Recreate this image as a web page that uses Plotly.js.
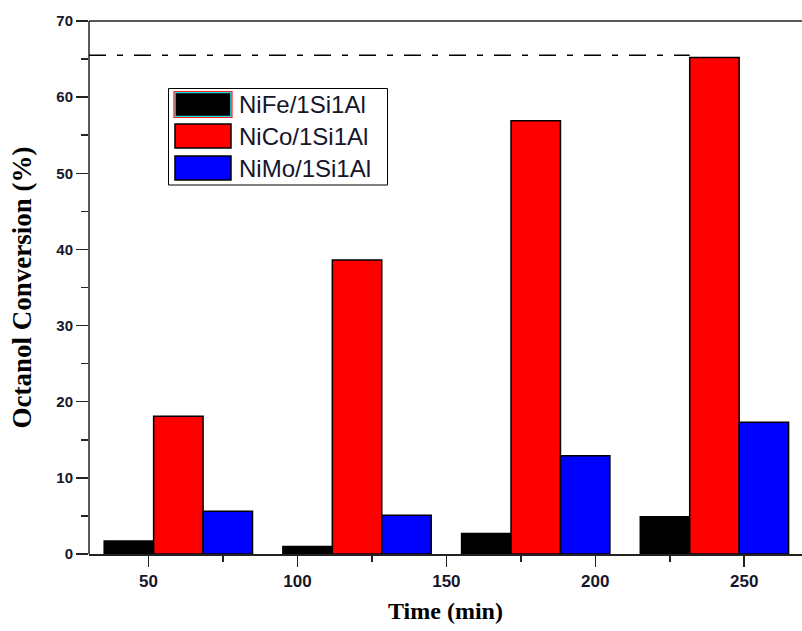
<!DOCTYPE html>
<html>
<head>
<meta charset="utf-8">
<script src="https://cdn.plot.ly/plotly-3.0.1.min.js"></script>
<style>
  html, body { margin: 0; padding: 0; background: #fff; overflow: hidden; }
  #chart { width: 802px; height: 631px; }
</style>
</head>
<body>
<div id="chart"></div>
<script>
// Reaction time (min) and octanol conversion (%) for each catalyst
const times = [60, 120, 180, 240];
const seriesNames = ['NiFe/1Si1Al', 'NiCo/1Si1Al', 'NiMo/1Si1Al'];
const nifeConv = [1.7, 1.0, 2.7, 4.9];
const nicoConv = [18.1, 38.6, 56.9, 65.2];
const nimoConv = [5.6, 5.1, 12.9, 17.3];
const seriesColors = ['#000000', '#ff0000', '#0000ff'];

// Dash-dot reference level (%)
const refLevel = 65.5;

// Axis ticks
const xTicks = [50, 100, 150, 200, 250];
const xMinorTicks = [75, 125, 175, 225];
const yTicks = [0, 10, 20, 30, 40, 50, 60, 70];
const yMinorTicks = [5, 15, 25, 35, 45, 55, 65];

const xRange = [30, 269.4];
const yRange = [0, 70];
const barGap = 0.17;

const W = 802, H = 631;
const M = { l: 89, r: 0, t: 21, b: 77 };
const plotW = W - M.l - M.r, plotH = H - M.t - M.b;
const px = v => (v - M.l) / plotW;
const py = v => (H - M.b - v) / plotH;

const axisColor = '#222';

const allSeries = [nifeConv, nicoConv, nimoConv];
const traces = allSeries.map((vals, i) => ({
  type: 'bar',
  x: times,
  y: vals,
  name: seriesNames[i],
  marker: { color: seriesColors[i], line: { color: '#000', width: 1.5 } },
  hoverinfo: 'x+y+name'
}));

// width of one bar in data units, so the reference line stops at the last red bar
const step = times[1] - times[0];
const barW = step * (1 - barGap) / allSeries.length;
const lineEnd = times[times.length - 1] - barW / 2;

const shapes = [
  // left axis line and top frame line
  { type: 'line', xref: 'paper', yref: 'paper', x0: 0, x1: 0, y0: 0, y1: 1,
    line: { color: axisColor, width: 1.5 }, layer: 'above' },
  { type: 'line', xref: 'paper', yref: 'paper', x0: 0, x1: 1, y0: 1, y1: 1,
    line: { color: axisColor, width: 1.5 }, layer: 'above' },
  // dash-dot reference level
  {
    type: 'line', xref: 'x', yref: 'y',
    x0: xRange[0], x1: lineEnd, y0: refLevel, y1: refLevel,
    line: { color: '#000', width: 1.5, dash: '17px,11px,6px,11px' }
  },
  // legend frame
  {
    type: 'rect', xref: 'paper', yref: 'paper',
    x0: px(168.5), x1: px(387.5), y0: py(88.5), y1: py(185),
    line: { color: '#000', width: 1 }, fillcolor: 'rgba(255,255,255,0)', layer: 'above'
  }
];

const rowTops = [92.5, 124, 156];
const swH = 24;
const annotations = [];
rowTops.forEach((top, i) => {
  shapes.push({
    type: 'rect', xref: 'paper', yref: 'paper',
    x0: px(175), x1: px(231), y0: py(top), y1: py(top + swH),
    fillcolor: seriesColors[i],
    line: { color: i === 0 ? '#22dddd' : '#000', width: 1.5 }, layer: 'above'
  });
  if (i === 0) {
    shapes.push({
      type: 'rect', xref: 'paper', yref: 'paper',
      x0: px(174), x1: px(232), y0: py(top - 1), y1: py(top + swH + 1),
      fillcolor: 'rgba(0,0,0,0)', line: { color: '#ff2020', width: 1.2 }, layer: 'above'
    });
  }
  annotations.push({
    xref: 'paper', yref: 'paper', x: px(237), y: py(top + swH / 2),
    xanchor: 'left', yanchor: 'middle', showarrow: false,
    text: seriesNames[i],
    font: { family: 'Liberation Sans, Arial, sans-serif', size: 24, color: '#16162a' }
  });
});

const tickFontX = { family: 'Liberation Sans, Arial, sans-serif', size: 17, color: '#16162a', weight: 'bold' };
const tickFontY = { family: 'Liberation Sans, Arial, sans-serif', size: 15, color: '#16162a', weight: 'bold' };
const xTitleFont = { family: 'Liberation Serif, Times New Roman, serif', size: 24, color: '#000', weight: 'bold' };
const yTitleFont = { family: 'Liberation Serif, Times New Roman, serif', size: 27, color: '#000', weight: 'bold' };

const layout = {
  width: W, height: H,
  margin: M,
  paper_bgcolor: '#fff', plot_bgcolor: '#fff',
  barmode: 'group', bargap: barGap, bargroupgap: 0,
  showlegend: false,
  xaxis: {
    range: xRange, tickmode: 'array', tickvals: xTicks, ticktext: xTicks.map(String),
    ticks: 'outside', ticklen: 11, tickwidth: 1.5, tickcolor: axisColor,
    minor: { tickmode: 'array', tickvals: xMinorTicks, ticks: 'outside', ticklen: 6, tickwidth: 1.5, tickcolor: axisColor },
    showline: true, linecolor: axisColor, linewidth: 1.5, mirror: false,
    showgrid: false, zeroline: false, tickfont: tickFontX,
    title: { text: 'Time (min)', font: xTitleFont, standoff: 12 }
  },
  yaxis: {
    range: yRange, tickmode: 'array', tickvals: yTicks, ticktext: yTicks.map(String),
    ticks: 'outside', ticklen: 12, tickwidth: 1.5, tickcolor: axisColor,
    minor: { tickmode: 'array', tickvals: yMinorTicks, ticks: 'outside', ticklen: 7, tickwidth: 1.5, tickcolor: axisColor },
    showline: false, mirror: false,
    showgrid: false, zeroline: false, tickfont: tickFontY,
    title: { text: 'Octanol Conversion (%)', font: yTitleFont, standoff: 16 }
  },
  shapes: shapes,
  annotations: annotations
};

Plotly.newPlot('chart', traces, layout, { displayModeBar: false, staticPlot: true });
</script>
</body>
</html>
